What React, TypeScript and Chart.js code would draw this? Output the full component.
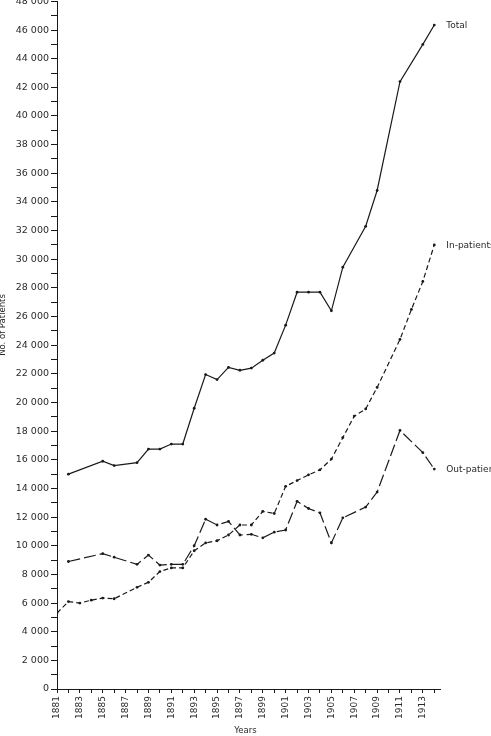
import React, { useEffect, useRef } from "react";
import { Chart, registerables } from "chart.js";

Chart.register(...registerables);

const YEARS = [
  1881, 1882, 1883, 1884, 1885, 1886, 1887, 1888, 1889, 1890, 1891, 1892,
  1893, 1894, 1895, 1896, 1897, 1898, 1899, 1900, 1901, 1902, 1903, 1904,
  1905, 1906, 1907, 1908, 1909, 1910, 1911, 1912, 1913, 1914,
];

const TOTAL = [
  null, 15000, null, null, 15900, 15600, null, 15800, 16750, 16750, 17100, 17100,
  19600, 21950, 21600, 22450, 22250, 22400, 22950, 23450, 25400, 27700, 27700, 27700,
  26400, 29450, null, 32300, 34800, null, 42400, null, 45000, 46350,
];

const IN_PATIENTS = [
  5300, 6100, 6000, 6200, 6350, 6300, null, 7100, 7450, 8200, 8450, 8450,
  9650, 10200, 10350, 10750, 11450, 11450, 12400, 12250, 14150, 14550, 14950, 15300,
  16050, 17550, 19050, 19550, 21050, null, 24400, 26500, 28450, 31000,
];

const OUT_PATIENTS = [
  null, 8900, null, null, 9450, 9200, null, 8700, 9350, 8650, 8700, 8700,
  10000, 11850, 11450, 11700, 10750, 10800, 10550, 10950, 11100, 13100, 12600, 12300,
  10200, 11950, null, 12700, 13750, null, 18050, null, 16500, 15350,
];

const SERIES_LABELS = ["Total", "In-patients", "Out-patients"];
const X_TITLE = "Years";
const Y_TITLE = "No. of Patients";

const INK = "#1a1a1a";
const TEXT = "#2a2a2a";
const FONT = '"DejaVu Sans", "Liberation Sans", Arial, sans-serif';

function toPoints(values: (number | null)[]) {
  return YEARS.map((y, i) => ({ x: y, y: values[i] }));
}

const annotations = {
  id: "annotations",
  afterDatasetsDraw(chart: any) {
    const ctx = chart.ctx;
    ctx.save();
    ctx.fillStyle = TEXT;
    ctx.font = `9px ${FONT}`;
    ctx.textAlign = "left";
    ctx.textBaseline = "middle";
    chart.data.datasets.forEach((ds: any, i: number) => {
      const meta = chart.getDatasetMeta(i);
      let last: any = null;
      meta.data.forEach((pt: any, j: number) => {
        if (ds.data[j] && ds.data[j].y !== null) last = pt;
      });
      if (last) ctx.fillText(SERIES_LABELS[i], last.x + 12, last.y + 1);
    });
    // axis titles
    const area = chart.chartArea;
    ctx.font = `8.5px ${FONT}`;
    ctx.textAlign = "center";
    ctx.textBaseline = "middle";
    ctx.fillText(X_TITLE, (area.left + area.right) / 2 - 3, 731);
    ctx.translate(3, 325);
    ctx.rotate(-Math.PI / 2);
    ctx.fillText(Y_TITLE, 0, 0);
    ctx.restore();
  },
};

export default function App() {
  const ref = useRef<HTMLCanvasElement>(null);

  useEffect(() => {
    if (!ref.current) return;
    const common = {
      borderColor: INK,
      borderWidth: 1.2,
      pointRadius: 1.4,
      pointBackgroundColor: INK,
      pointBorderColor: INK,
      pointBorderWidth: 0,
      pointHoverRadius: 1.4,
      fill: false,
      tension: 0,
      spanGaps: true,
    };
    const chart = new Chart(ref.current, {
      type: "line",
      data: {
        datasets: [
          { ...common, label: SERIES_LABELS[0], data: toPoints(TOTAL) },
          { ...common, label: SERIES_LABELS[1], data: toPoints(IN_PATIENTS), borderDash: [5, 3] },
          { ...common, label: SERIES_LABELS[2], data: toPoints(OUT_PATIENTS), borderDash: [12, 4] },
        ],
      } as any,
      options: {
        animation: false,
        responsive: false,
        devicePixelRatio: 1,
        layout: { padding: { left: 0, top: 0, right: 51, bottom: 0 } },
        plugins: {
          legend: { display: false },
          tooltip: { enabled: false },
          title: { display: false },
        },
        scales: {
          x: {
            type: "linear",
            min: 1881,
            max: 1914.5,
            grid: {
              display: true,
              drawOnChartArea: false,
              drawTicks: true,
              tickLength: 4,
              tickColor: INK,
              tickWidth: 1,
            },
            border: { display: true, color: INK, width: 1 },
            ticks: {
              stepSize: 1,
              includeBounds: false,
              autoSkip: false,
              minRotation: 90,
              maxRotation: 90,
              padding: 3,
              color: TEXT,
              font: { family: FONT, size: 9 },
              callback: (v: any) => (Number(v) % 2 === 1 ? String(v) : ""),
            },
            afterFit: (scale: any) => {
              scale.height = 47;
              scale.paddingLeft = 0;
              scale.paddingRight = 0;
            },
          },
          y: {
            type: "linear",
            min: 0,
            max: 48000,
            grid: {
              display: true,
              drawOnChartArea: false,
              drawTicks: true,
              tickLength: 6,
              tickColor: INK,
              tickWidth: 1,
            },
            border: { display: true, color: INK, width: 1 },
            ticks: {
              stepSize: 1000,
              autoSkip: false,
              padding: 2,
              color: TEXT,
              font: { family: FONT, size: 9.5 },
              callback: (v: any) => {
                const n = Number(v);
                if (n % 2000 !== 0) return "";
                if (n === 0) return "0";
                return `${n / 1000} 000`;
              },
            },
            afterFit: (scale: any) => {
              scale.width = 57;
              scale.paddingTop = 0;
              scale.paddingBottom = 0;
            },
          },
        },
      } as any,
      plugins: [annotations],
    });
    return () => chart.destroy();
  }, []);

  return (
    <div style={{ position: "fixed", left: 0, top: 0, width: 491, height: 736, background: "#fff" }}>
      <canvas ref={ref} width={491} height={736} style={{ display: "block", width: 491, height: 736 }} />
    </div>
  );
}
